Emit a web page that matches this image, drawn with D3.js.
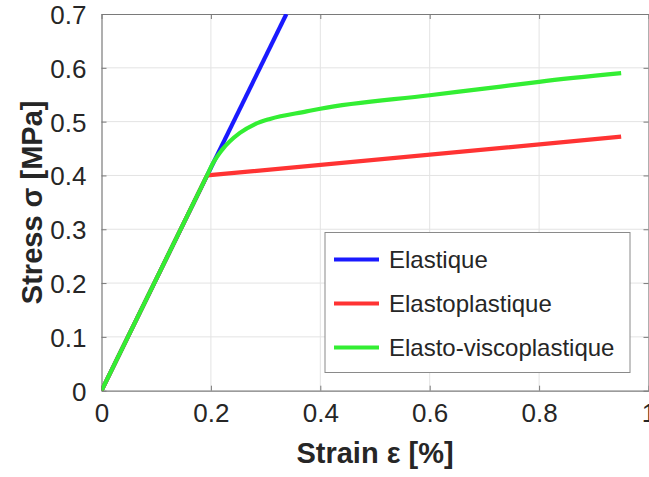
<!DOCTYPE html>
<html>
<head>
<meta charset="utf-8">
<script src="https://cdn.jsdelivr.net/npm/d3@7"></script>
<style>
  body { margin: 0; background: #fff; }
  text { font-family: "Liberation Sans", Arial, Helvetica, sans-serif; fill: #262626; }
  .axisLabel { font-weight: bold; font-size: 29px; }
</style>
</head>
<body>
<div id="wrapper"></div>
<script>
'use strict';

//#region DATA
// strain [%] / stress [MPa]
const elasticStrain = [0, 0.338];
const elasticStress = [0, 0.7];

const plasticStrain = [0, 0.193, 0.95];
const plasticStress = [0, 0.4, 0.472];

const viscoStrain = [0, 0.193, 0.204, 0.22, 0.253, 0.28, 0.308, 0.375, 0.4, 0.6, 0.73, 0.8, 0.95];
const viscoStress = [0, 0.4, 0.423, 0.447, 0.479, 0.495, 0.505, 0.519, 0.524, 0.549, 0.565, 0.574, 0.59];

const seriesNames = ['Elastique', 'Elastoplastique', 'Elasto-viscoplastique'];
const seriesColours = ['#1a1aff', '#ff3333', '#33ee33'];
const seriesCurves = [d3.curveLinear, d3.curveLinear, d3.curveMonotoneX];

const xTicks = [0, 0.2, 0.4, 0.6, 0.8, 1];
const yTicks = [0, 0.1, 0.2, 0.3, 0.4, 0.5, 0.6, 0.7];
//#endregion DATA

function drawChart () {
  const zip = (xs, ys) => xs.map((x, i) => ({strain: x, stress: ys[i]}));
  const series = [
    zip(elasticStrain, elasticStress),
    zip(plasticStrain, plasticStress),
    zip(viscoStrain, viscoStress)
  ];

  const xAccessor = d => d.strain;
  const yAccessor = d => d.stress;

  //#region CHART DIMENSIONS
  let dimensions = {
    width: 649,
    height: 477,
    margin: {top: 14, right: 0.5, bottom: 86.3, left: 101.5}
  };
  dimensions.plotWidth = dimensions.width - dimensions.margin.left - dimensions.margin.right;
  dimensions.plotHeight = dimensions.height - dimensions.margin.top - dimensions.margin.bottom;
  //#endregion CHART DIMENSIONS

  //#region DRAW CANVAS
  const wrapper = d3.select('#wrapper')
    .append('svg')
    .attr('width', dimensions.width)
    .attr('height', dimensions.height);

  const plot = wrapper.append('g')
    .attr('transform', `translate(${dimensions.margin.left}, ${dimensions.margin.top})`);

  plot.append('clipPath').attr('id', 'clip')
    .append('rect')
    .attr('width', dimensions.plotWidth)
    .attr('height', dimensions.plotHeight);
  //#endregion DRAW CANVAS

  //#region SCALES
  const xScale = d3.scaleLinear().domain([0, 1]).range([0, dimensions.plotWidth]);
  const yScale = d3.scaleLinear().domain([0, 0.7]).range([dimensions.plotHeight, 0]);
  //#endregion SCALES

  //#region GRID
  const grid = plot.append('g').attr('stroke', '#e3e3e3').attr('stroke-width', 1);
  grid.selectAll('.vgrid').data(xTicks.slice(1, -1)).join('line')
    .attr('x1', d => xScale(d)).attr('x2', d => xScale(d))
    .attr('y1', 0).attr('y2', dimensions.plotHeight);
  grid.selectAll('.hgrid').data(yTicks.slice(1, -1)).join('line')
    .attr('y1', d => yScale(d)).attr('y2', d => yScale(d))
    .attr('x1', 0).attr('x2', dimensions.plotWidth);
  //#endregion GRID

  //#region AXES
  const tickFont = '26px';
  const xAxis = plot.append('g')
    .attr('transform', `translate(0, ${dimensions.plotHeight})`)
    .call(d3.axisBottom(xScale).tickValues(xTicks).tickSizeInner(-5).tickSizeOuter(0).tickPadding(13)
      .tickFormat(d3.format('~g')));
  const xTop = plot.append('g')
    .call(d3.axisTop(xScale).tickValues(xTicks).tickSizeInner(-5).tickSizeOuter(0).tickFormat(''));
  const yAxis = plot.append('g')
    .call(d3.axisLeft(yScale).tickValues(yTicks).tickSizeInner(-5).tickSizeOuter(0).tickPadding(15)
      .tickFormat(d3.format('~g')));
  const yRight = plot.append('g')
    .attr('transform', `translate(${dimensions.plotWidth}, 0)`)
    .call(d3.axisRight(yScale).tickValues(yTicks).tickSizeInner(-5).tickSizeOuter(0).tickFormat(''));

  [xAxis, xTop, yAxis, yRight].forEach(a => {
    a.select('.domain').attr('stroke', '#7a7a7a').attr('stroke-width', 1.2);
    a.selectAll('.tick line').attr('stroke', '#7a7a7a');
    a.selectAll('.tick text').style('font-size', tickFont).attr('fill', '#262626');
  });
  yAxis.selectAll('.tick text').attr('dy', '0.36em');
  //#endregion AXES

  //#region DRAW DATA
  const lineGenerator = d3.line()
    .x(d => xScale(xAccessor(d)))
    .y(d => yScale(yAccessor(d)));

  plot.append('g').attr('clip-path', 'url(#clip)')
    .selectAll('path').data(series).join('path')
    .attr('d', (d, i) => lineGenerator.curve(seriesCurves[i])(d))
    .attr('fill', 'none')
    .attr('stroke', (d, i) => seriesColours[i])
    .attr('stroke-width', 4.2)
    .attr('stroke-linejoin', 'round');
  //#endregion DRAW DATA

  //#region LABELS
  plot.append('text')
    .attr('class', 'axisLabel')
    .attr('x', dimensions.plotWidth / 2)
    .attr('y', dimensions.plotHeight + 72)
    .attr('text-anchor', 'middle')
    .text('Strain ε [%]');

  plot.append('text')
    .attr('class', 'axisLabel')
    .attr('transform', `translate(${-dimensions.margin.left + 42}, ${dimensions.plotHeight / 2}) rotate(-90)`)
    .attr('text-anchor', 'middle')
    .text('Stress σ [MPa]');
  //#endregion LABELS

  //#region LEGEND
  const legend = wrapper.append('g').attr('transform', 'translate(325, 232.5)');
  legend.append('rect')
    .attr('width', 305).attr('height', 140)
    .attr('fill', '#fff').attr('stroke', '#8a8a8a').attr('stroke-width', 1);
  const items = legend.selectAll('.item').data(seriesNames).join('g')
    .attr('transform', (d, i) => `translate(0, ${27 + i * 44})`);
  items.append('line')
    .attr('x1', 9).attr('x2', 54)
    .attr('stroke', (d, i) => seriesColours[i])
    .attr('stroke-width', 4.2);
  items.append('text')
    .attr('x', 64).attr('dy', '0.36em')
    .style('font-size', '24px')
    .attr('fill', '#000')
    .text(d => d);
  //#endregion LEGEND
}
drawChart();
</script>
</body>
</html>
